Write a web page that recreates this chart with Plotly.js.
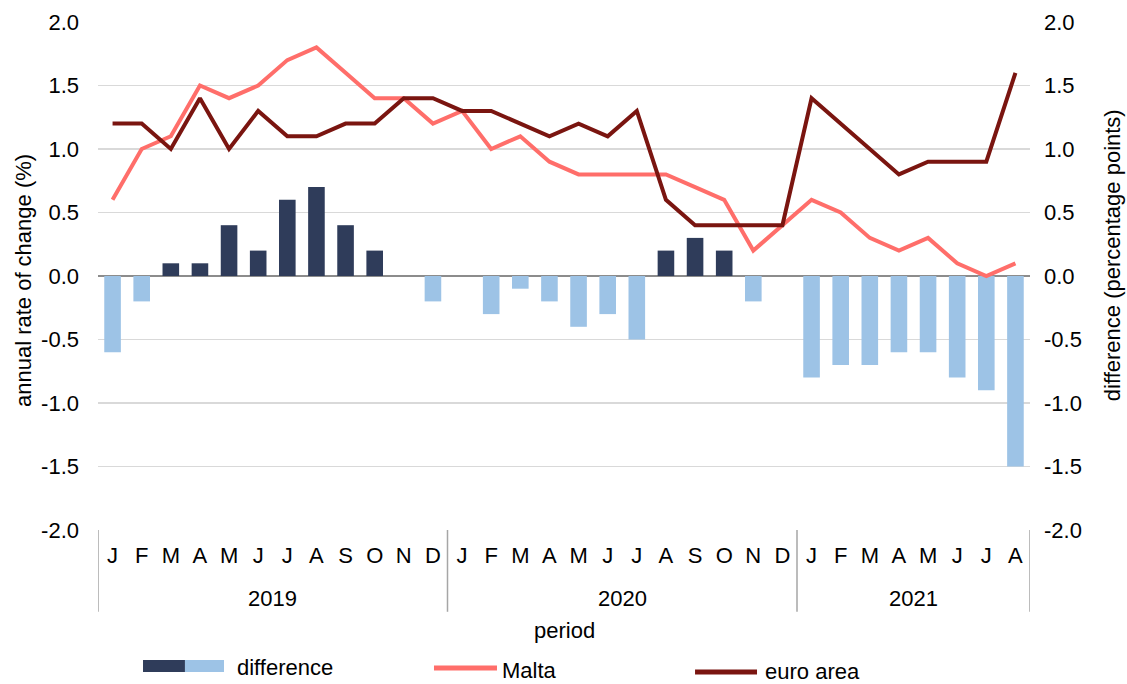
<!DOCTYPE html>
<html>
<head>
<meta charset="utf-8">
<script src="https://cdn.plot.ly/plotly-3.0.1.min.js"></script>
<style>html,body{margin:0;padding:0;background:#fff;}#chart{width:1127px;height:684px;}</style>
</head>
<body>
<div id="chart"></div>
<script>
const years = ['2019', '2020', '2021'];
const monthsPerYear = [12, 12, 8];
const monthLetters = ['J','F','M','A','M','J','J','A','S','O','N','D'];

const malta = [0.6,1.0,1.1,1.5,1.4,1.5,1.7,1.8,1.6,1.4,1.4,1.2,
               1.3,1.0,1.1,0.9,0.8,0.8,0.8,0.8,0.7,0.6,0.2,0.4,
               0.6,0.5,0.3,0.2,0.3,0.1,0.0,0.1];
const euroArea = [1.2,1.2,1.0,1.4,1.0,1.3,1.1,1.1,1.2,1.2,1.4,1.4,
                  1.3,1.3,1.2,1.1,1.2,1.1,1.3,0.6,0.4,0.4,0.4,0.4,
                  1.4,1.2,1.0,0.8,0.9,0.9,0.9,1.6];
const difference = [-0.6,-0.2,0.1,0.1,0.4,0.2,0.6,0.7,0.4,0.2,0,-0.2,
                    0,-0.3,-0.1,-0.2,-0.4,-0.3,-0.5,0.2,0.3,0.2,-0.2,0,
                    -0.8,-0.7,-0.7,-0.6,-0.6,-0.8,-0.9,-1.5];
const yTicks = [-2,-1.5,-1,-0.5,0,0.5,1,1.5,2];
const yTickText = yTicks.map(v => v.toFixed(1));

// build period keys and labels
const periods = [], monthTicks = [];
years.forEach((y, yi) => {
  for (let m = 0; m < monthsPerYear[yi]; m++) {
    periods.push(y + '-' + (m + 1));
    monthTicks.push(monthLetters[m]);
  }
});

const NAVY = '#2f3c5a', LIGHT = '#9dc3e6', MALTA = '#ff6e6a', EURO = '#7a1510';
const FONT = 'Arial, "Liberation Sans", sans-serif';
const FS = 22;

const traces = [
  {type: 'bar', x: periods, y: difference, name: 'difference',
   marker: {color: difference.map(v => v >= 0 ? NAVY : LIGHT)},
   xaxis: 'x', yaxis: 'y', showlegend: false},
  {type: 'scatter', mode: 'lines', x: periods, y: malta, name: 'Malta',
   line: {color: MALTA, width: 4}, xaxis: 'x', yaxis: 'y2', showlegend: false},
  {type: 'scatter', mode: 'lines', x: periods, y: euroArea, name: 'euro area',
   line: {color: EURO, width: 4}, xaxis: 'x', yaxis: 'y2', showlegend: false}
];

// dividers and year labels
const shapes = [], annotations = [];
let start = 0;
const boundaries = [-0.5];
years.forEach((y, yi) => {
  const end = start + monthsPerYear[yi];
  boundaries.push(end - 0.5);
  annotations.push({xref: 'x', yref: 'paper', x: (start + end - 1) / 2, y: -0.134,
    text: y, showarrow: false, font: {family: FONT, size: FS, color: '#000'},
    xanchor: 'center', yanchor: 'middle'});
  start = end;
});
boundaries.forEach(b => shapes.push({type: 'line', xref: 'x', yref: 'paper',
  x0: b, x1: b, y0: 0, y1: -0.161, line: {color: '#a6a6a6', width: 1.5}}));

// legend
shapes.push({type: 'rect', xref: 'paper', yref: 'paper', x0: 0.0483, x1: 0.0933,
  y0: -0.2795, y1: -0.2559, fillcolor: NAVY, line: {width: 0}});
shapes.push({type: 'rect', xref: 'paper', yref: 'paper', x0: 0.0933, x1: 0.1352,
  y0: -0.2795, y1: -0.2559, fillcolor: LIGHT, line: {width: 0}});
shapes.push({type: 'line', xref: 'paper', yref: 'paper', x0: 0.3605, x1: 0.4281,
  y0: -0.2717, y1: -0.2717, line: {color: MALTA, width: 5}});
shapes.push({type: 'line', xref: 'paper', yref: 'paper', x0: 0.6406, x1: 0.7071,
  y0: -0.2795, y1: -0.2795, line: {color: EURO, width: 5}});
const legFont = {family: FONT, size: FS, color: '#000'};
annotations.push({xref: 'paper', yref: 'paper', x: 0.147, y: -0.2697, text: 'difference',
  showarrow: false, xanchor: 'left', yanchor: 'middle', font: legFont});
annotations.push({xref: 'paper', yref: 'paper', x: 0.4313, y: -0.2756, text: 'Malta',
  showarrow: false, xanchor: 'left', yanchor: 'middle', font: legFont});
annotations.push({xref: 'paper', yref: 'paper', x: 0.7135, y: -0.2795, text: 'euro area',
  showarrow: false, xanchor: 'left', yanchor: 'middle', font: legFont});
// axis titles
const titleFont = {family: FONT, size: FS, color: '#000'};
annotations.push({xref: 'paper', yref: 'paper', x: 0.5, y: -0.1969, text: 'period',
  showarrow: false, xanchor: 'center', yanchor: 'middle', font: titleFont});
annotations.push({xref: 'paper', yref: 'paper', x: -0.0805, y: 0.492, text: 'annual rate of change (%)',
  showarrow: false, xanchor: 'center', yanchor: 'middle', textangle: -90, font: titleFont});
annotations.push({xref: 'paper', yref: 'paper', x: 1.088, y: 0.541, text: 'difference (percentage points)',
  showarrow: false, xanchor: 'center', yanchor: 'middle', textangle: -90, font: titleFont});

const tickFont = {family: FONT, size: FS, color: '#000'};
const layout = {
  width: 1127, height: 684,
  margin: {l: 98, r: 97, t: 22, b: 154},
  paper_bgcolor: '#fff', plot_bgcolor: '#fff',
  showlegend: false,
  bargap: 0.43,
  xaxis: {type: 'category', tickvals: periods, ticktext: monthTicks,
    tickfont: tickFont, showgrid: false, showline: false, zeroline: false,
    ticks: '', ticklabelstandoff: 10, range: [-0.5, periods.length - 0.5], fixedrange: true},
  yaxis: {range: [-2, 2], tickvals: yTicks, ticktext: yTickText, tickfont: tickFont,
    showgrid: true, gridcolor: '#d9d9d9', gridwidth: 1.3,
    zeroline: true, zerolinecolor: '#8c8c8c', zerolinewidth: 1.5,
    showline: false, ticks: '', ticklabelstandoff: 18},
  yaxis2: {range: [-2, 2], tickvals: yTicks, ticktext: yTickText, tickfont: tickFont,
    overlaying: 'y', side: 'right', showgrid: false, zeroline: false,
    showline: false, ticks: '', ticklabelstandoff: 13},
  shapes: shapes,
  annotations: annotations
};

Plotly.newPlot('chart', traces, layout, {displayModeBar: false, staticPlot: true});
</script>
</body>
</html>
